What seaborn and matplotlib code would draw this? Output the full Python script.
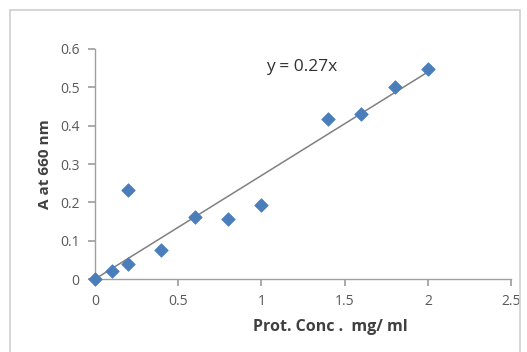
import matplotlib
matplotlib.use("Agg")
import matplotlib.pyplot as plt
from matplotlib.patches import Rectangle
import numpy as np
import pandas as pd
import seaborn as sns

# protein concentration (mg/ml) and absorbance at 660 nm
conc = [0, 0.1, 0.2, 0.2, 0.4, 0.6, 0.8, 1.0, 1.4, 1.6, 1.8, 2.0]
absorb = [0, 0.02, 0.04, 0.232, 0.077, 0.163, 0.158, 0.193, 0.418, 0.43, 0.5, 0.548]
slope = 0.27
x_ticks = [0, 0.5, 1, 1.5, 2, 2.5]
x_tick_labels = ["0", "0.5", "1", "1.5", "2", "2.5"]
y_ticks = [0, 0.1, 0.2, 0.3, 0.4, 0.5, 0.6]
y_tick_labels = ["0", "0.1", "0.2", "0.3", "0.4", "0.5", "0.6"]

sns.set_theme(style="white")
plt.rcParams["font.family"] = ["Open Sans", "DejaVu Sans"]

df = pd.DataFrame({"conc": conc, "absorb": absorb})
fit_x = np.array([0, max(conc)])
fit_df = pd.DataFrame({"conc": fit_x, "absorb": slope * fit_x})

fig = plt.figure(figsize=(5.27, 3.52), dpi=100)
ax = fig.add_axes([0.180, 0.207, 0.790, 0.654])

# outer chart border
fig.patches.append(Rectangle((10 / 527, -0.05), 510 / 527, 1 - 10 / 352 + 0.05,
                             transform=fig.transFigure, fill=False,
                             edgecolor="#d0d0d0", linewidth=1.2))

sns.lineplot(data=fit_df, x="conc", y="absorb", color="#808080", linewidth=1.1, ax=ax)
sns.scatterplot(data=df, x="conc", y="absorb", marker="D", s=48,
                color="#4a7ebb", edgecolor="#4a7ebb", linewidth=0.5, ax=ax, zorder=3,
                clip_on=False)

ax.set_xlim(0, 2.5)
ax.set_ylim(0, 0.6)
ax.set_xticks(x_ticks)
ax.set_xticklabels(x_tick_labels)
ax.set_yticks(y_ticks)
ax.set_yticklabels(y_tick_labels)

for side in ["top", "right"]:
    ax.spines[side].set_visible(False)
for side in ["left", "bottom"]:
    ax.spines[side].set_color("#a0a0a0")
    ax.spines[side].set_linewidth(1.0)

ax.tick_params(axis="both", which="major", direction="out", length=5,
               color="#a0a0a0", labelsize=10, labelcolor="#595959", pad=6)
ax.tick_params(axis="x", bottom=True)
ax.tick_params(axis="y", left=True)

ax.set_xlabel("Prot. Conc .  mg/ ml", fontsize=11.5, fontweight="bold", color="#404040")
ax.xaxis.set_label_coords(0.565, -0.175)
ax.set_ylabel("A at 660 nm", fontsize=11, fontweight="bold", color="#404040", labelpad=6)

ax.text(1.03, 0.553, "y = 0.27x", fontsize=12.5, color="#303030", va="center", ha="left")

fig.savefig("out.png", dpi=100)
